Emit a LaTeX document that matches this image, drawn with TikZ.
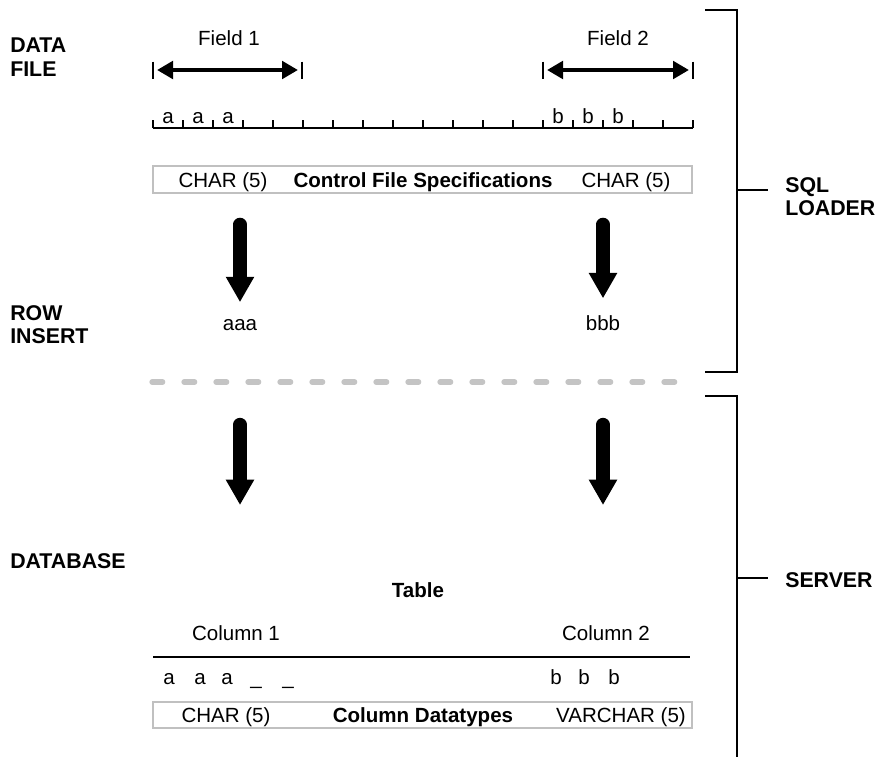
\documentclass[tikz,border=0pt]{standalone}
\usepackage{fontspec}
\setmainfont{Liberation Sans}
\definecolor{boxgray}{RGB}{192,192,192}
\definecolor{dashgray}{RGB}{196,196,196}
\usetikzlibrary{arrows.meta,positioning,calc}

\begin{document}
\begin{tikzpicture}[x=0.75pt,y=-0.75pt,
    every node/.style={inner sep=0pt,font=\fontsize{15.4}{17.3}\selectfont},
    side/.style={font=\fontsize{16}{17.3}\selectfont\bfseries,align=left,anchor=north west},
    specbox/.style={draw=boxgray,line width=1.5pt,minimum width=404pt,minimum height=20pt},
    bigarrow/.style={line width=10pt,line cap=round,-{Triangle[width=20pt,length=19pt]}},
    fieldarrow/.style={line width=3pt,shorten <=3pt,shorten >=3pt,
      {Triangle[width=13pt,length=12pt]}-{Triangle[width=13pt,length=12pt]}},
    bracket/.style={line width=1.5pt}
    ]
    \useasboundingbox (0,0) rectangle (878,757);

    % labels on the left
    \node (datafile) [side] at (10,38) {DATA\\FILE};
    \node (rowins) [side] at (10,305) {ROW\\INSERT};
    \node (database) [side] at (10,553) {DATABASE};

    % fields
    \node (field1) [anchor=base] at (229,45) {Field 1};
    \node (field2) [anchor=base] at (618,45) {Field 2};
    \coordinate (f1l) at (153,70);
    \coordinate (f1r) at (302,70);
    \coordinate (f2l) at (543,70);
    \coordinate (f2r) at (693,70);
    \foreach \c in {f1l,f1r,f2l,f2r}
      \draw[line width=1pt] ($(\c)+(0,-8.5)$) -- ($(\c)+(0,8.5)$);
    \draw[fieldarrow] (f1l) -- (f1r);
    \draw[fieldarrow] (f2l) -- (f2r);

    % the ruler
    \draw[line width=1pt] (153,128) -- (693,128);
    \foreach \i in {0,...,18}
      \draw[line width=1pt] (153+30*\i,128) -- ++(0,-8);
    \foreach \x/\c [count=\n] in {168/a,198/a,228/a,558/b,588/b,618/b}
      \node (ch\n) [anchor=base] at (\x,123) {\c};

    % control file box
    \node (ctl) [specbox] at (422.5,179.5) {};
    \node (ctlL) [anchor=base] at (223,187) {CHAR (5)};
    \node (ctlM) [anchor=base] at (423,187) {\bfseries Control File Specifications};
    \node (ctlR) [anchor=base] at (626,187) {CHAR (5)};

    % row insert
    \node (aaa) [anchor=base] at (240,330) {aaa};
    \node (bbb) [anchor=base] at (603,330) {bbb};
    \draw[bigarrow,shorten <=22.9pt,shorten >=12.4pt] (aaa |- ctl.south) -- (aaa.north);
    \draw[bigarrow,shorten <=22.9pt,shorten >=12.4pt] (bbb |- ctl.south) -- (bbb.north);

    % separator
    \coordinate (sepL) at (152,382);
    \coordinate (sepR) at (675,382);
    \draw[dashgray,line width=4pt,line cap=round,dash pattern=on 8pt off 16pt] (sepL) -- (sepR);

    \coordinate (d1s) at (240,424.5);
    \coordinate (d1e) at (240,505);
    \coordinate (d2s) at (603,424.5);
    \coordinate (d2e) at (603,505);
    \draw[bigarrow] (d1s) -- (d1e);
    \draw[bigarrow] (d2s) -- (d2e);

    % the table
    \node (table) [anchor=base] at (418,597) {\bfseries Table};
    \node (col1) [anchor=base] at (236,640) {Column 1};
    \node (col2) [anchor=base] at (606,640) {Column 2};
    \draw[line width=1pt] (153,657) -- (690,657);
    \foreach \x/\c [count=\n] in {169/a,200/a,227/a,256/\_,288/\_,556/b,584/b,614/b}
      \node (row\n) [anchor=base] at (\x,684) {\c};
    \node (dt) [specbox] at (422.5,715) {};
    \node (dtL) [anchor=base] at (226,722) {CHAR (5)};
    \node (dtM) [anchor=base] at (423,722) {\bfseries Column Datatypes};
    \node (dtR) [anchor=base] at (621,722) {VARCHAR (5)};

    % brackets on the right
    \node (sql) [side] at (785,177) {SQL\\LOADER};
    \node (server) [side] at (785,572) {SERVER};
    \draw[bracket] (705,10) -- (737,10) -- (737,372) -- (705,372);
    \draw[bracket] (737,190) -- (768,190);
    \draw[bracket] (705,396) -- (737,396) -- (737,757);
    \draw[bracket] (737,578) -- (768,578);
\end{tikzpicture}
\end{document}
